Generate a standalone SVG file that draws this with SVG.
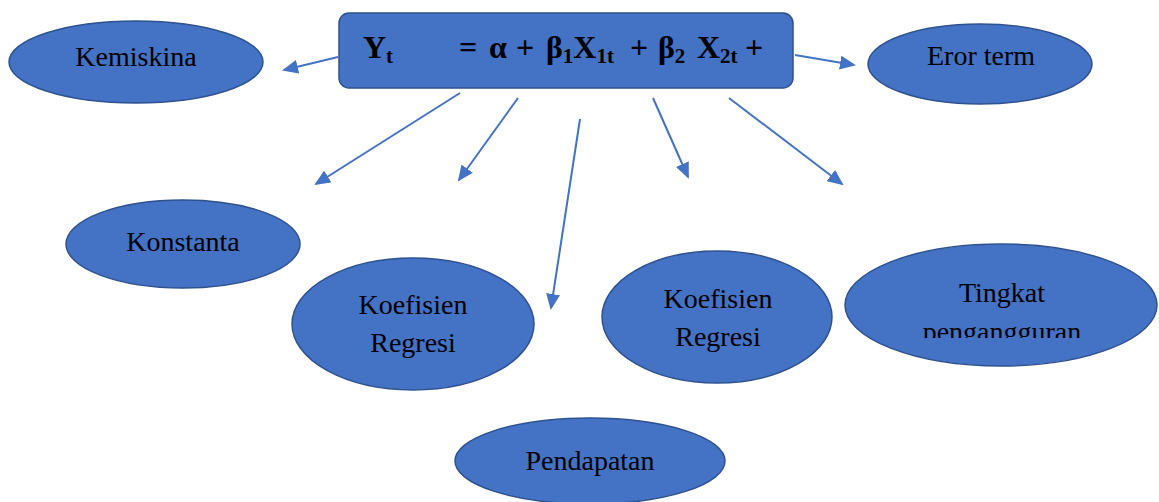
<svg xmlns="http://www.w3.org/2000/svg" width="1159" height="502" viewBox="0 0 1159 502">
<style>
.node{fill:#4472C4;stroke:#2F528F;stroke-width:1.5}
.lbl{font-family:"Liberation Serif","Times New Roman",serif;font-size:28px;fill:#000;text-anchor:middle}
.eq{font-family:"Liberation Serif","Times New Roman",serif;font-weight:bold;fill:#000;font-size:32px}
.sub{font-size:21px}
.conn line{stroke:#4472C4;stroke-width:2;marker-end:url(#ah)}
</style>
<defs>
<marker id="ah" markerWidth="8" markerHeight="7" refX="7" refY="3.5" orient="auto" markerUnits="strokeWidth">
<path d="M0,0 L8,3.5 L0,7 Z" fill="#4472C4"/>
</marker>
<clipPath id="clipT"><rect x="840" y="240" width="319" height="98"/></clipPath>
</defs>
<rect width="1159" height="502" fill="#fff"/>
<g class="conn" id="connectors">
<line x1="338" y1="57" x2="284" y2="70"/>
<line x1="460" y1="93" x2="316" y2="184"/>
<line x1="518" y1="98" x2="459" y2="180"/>
<line x1="580" y1="119" x2="551" y2="308"/>
<line x1="653" y1="98" x2="688" y2="177"/>
<line x1="729" y1="98" x2="842" y2="184"/>
<line x1="795" y1="55" x2="854" y2="65"/>
</g>
<g id="equation">
<rect class="node" x="339" y="13" width="454" height="75" rx="10"/>
<text class="eq" y="58"><tspan x="363">Y</tspan><tspan class="sub" x="386" dy="5">t</tspan><tspan x="459" dy="-5">=</tspan><tspan x="489">α</tspan><tspan x="516">+</tspan><tspan x="546">β</tspan><tspan class="sub" dy="5">1</tspan><tspan dy="-5">X</tspan><tspan class="sub" dy="5">1t</tspan><tspan x="630" dy="-5">+</tspan><tspan x="658">β</tspan><tspan class="sub" dy="5">2</tspan><tspan x="697" dy="-5">X</tspan><tspan class="sub" dy="5">2t</tspan><tspan x="745" dy="-5">+</tspan></text>
</g>
<g id="kemiskina">
<ellipse class="node" cx="136" cy="62" rx="127" ry="41"/>
<text class="lbl" x="136" y="66">Kemiskina</text>
</g>
<g id="eror">
<ellipse class="node" cx="980" cy="64" rx="112" ry="40"/>
<text class="lbl" x="981" y="65">Eror term</text>
</g>
<g id="konstanta">
<ellipse class="node" cx="183" cy="244" rx="117" ry="44"/>
<text class="lbl" x="183" y="251">Konstanta</text>
</g>
<g id="koef1">
<ellipse class="node" cx="413" cy="324" rx="121" ry="66"/>
<text class="lbl" x="413" y="314">Koefisien</text>
<text class="lbl" x="413" y="352">Regresi</text>
</g>
<g id="koef2">
<ellipse class="node" cx="717" cy="317" rx="115" ry="66"/>
<text class="lbl" x="718" y="308">Koefisien</text>
<text class="lbl" x="718" y="346">Regresi</text>
</g>
<g id="tingkat">
<ellipse class="node" cx="1001" cy="305" rx="156" ry="61"/>
<text class="lbl" x="1002" y="302">Tingkat</text>
<text class="lbl" x="1002" y="341" clip-path="url(#clipT)">pengangguran</text>
</g>
<g id="pendapatan">
<ellipse class="node" cx="590" cy="461" rx="135" ry="43"/>
<text class="lbl" x="590" y="470">Pendapatan</text>
</g>
</svg>
